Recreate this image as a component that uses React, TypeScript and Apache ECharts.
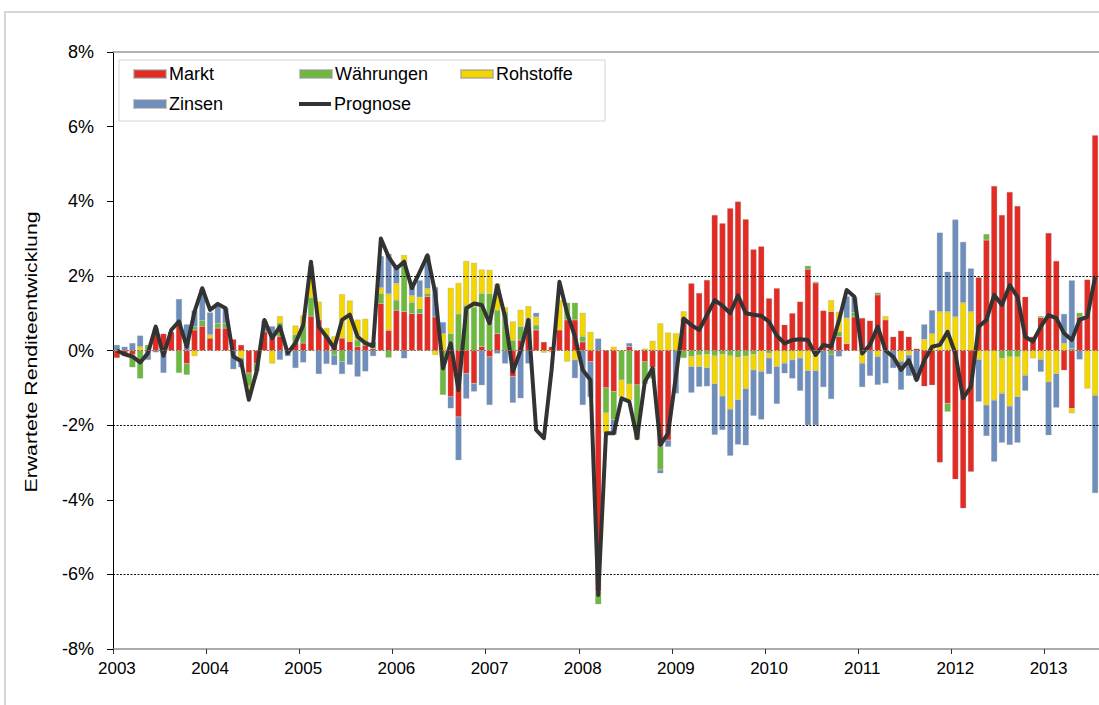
import React, { useEffect, useRef } from "react";
import * as echarts from "echarts";

// ---- data (monthly, Jan 2003 onwards) ----
const START_YEAR = 2003;
const MONTH_COUNT = 127;
const months: string[] = [];
for (let k = 0; k < MONTH_COUNT; k++) {
  const y = START_YEAR + Math.floor(k / 12);
  const m = (k % 12) + 1;
  months.push(`${y}-${m < 10 ? "0" + m : m}`);
}

const yTicks = [-8, -6, -4, -2, 0, 2, 4, 6, 8];
const gridLevels = [2, -2, -6];

const markt = [
  -0.2, -0.15, -0.1, 0, 0, 0.6, 0.45, 0.5, 0.73, -0.35, 0.55, 0.65, 0.33, 0.6, 0.6, 0.3, 0.15, -0.6, -0.35, 0.5,
  0.35, 0.38, 0.05, 0.2, 0.2, 0.92, 0.82, 0.38, 0.2, 0.33, 0.24, 0.1, 0.14, 0.05, 1.26, 0.54, 1.08, 1.04, 0.99, 0.99,
  1.44, 0.9, 0, -1.24, -1.78, -0.62, -0.88, 0.1, -0.17, 0.45, 0, -0.7, 0.28, 0.63, 0.55, 0.23, 0.1, 0.55, 0.82, 0.82,
  0.23, -0.3, -6.45, -1.0, -1.1, 0, 0.1, -0.92, -0.3, -0.45, -2.57, -2.4, 0, 0.87, 1.8, 1.54, 1.89, 3.63, 3.41, 3.81,
  3.99, 3.52, 2.71, 2.79, 1.4, 1.67, 0.69, 1.0, 1.31, 2.18, 1.81, 1.07, 1.04, 0.37, 0.18, 0.9, 0.87, 0.8, 1.49, 0.82,
  0.37, 0.53, 0.37, 0.05, -0.96, -0.93, -3.0, -1.42, -3.45, -4.23, -3.25, 1.96, 2.96, 4.41, 3.63, 4.25, 3.87, 1.44, 0.37, 0.88,
  3.15, 2.4, -0.53, -1.55, 0.9, 1.9, 5.77,
];

const waehrungen = [
  0, 0, -0.35, -0.75, 0.15, 0, 0, 0, -0.6, -0.3, 0.09, 0.15, 0, 0.13, 0.13, 0, 0, -0.35, -0.2, 0,
  0, 0.36, 0, 0.22, 0.45, 0.5, 0, 0, -0.12, -0.3, 0, 0.18, 0.13, 0.18, 0.27, -0.19, 0.27, 1.34, 0.3, 0.13,
  0.09, 0, -1.19, 0.45, 0.98, 1.21, 1.16, 1.43, 1.52, 0.63, 1.03, 0.27, 0.36, 0.22, 0.13, 0, 0, 0, 0.46, 0.46,
  0.15, 0, -0.35, -0.67, -0.75, -0.79, -0.9, -1.47, -0.6, -0.3, -0.63, 0, 0, -0.2, -0.16, -0.12, -0.1, -0.14, -0.1, -0.14,
  -0.18, -0.15, -0.1, 0, -0.07, 0, 0, 0, 0, 0.09, 0.03, 0, -0.1, 0.13, 0, 0.12, 0, 0, 0.06, 0,
  0, 0, 0, 0, 0, 0, 0, -0.22, 0, 0, 0, 0, 0.16, 0, -0.21, -0.17, -0.17, 0, 0, 0.04,
  0, 0, 0, 0.05, 0.11, 0, 0,
];

const rohstoffe = [
  0, 0, 0, 0.1, 0, 0, 0, 0, 0, 0, -0.15, 0, 0.09, 0, 0, 0, -0.2, -0.1, 0, 0,
  -0.35, 0.18, 0, 0.25, 0.29, 0.85, 0.49, 0.22, 0.18, 1.18, 1.1, 0.55, 0.58, 0, 0.15, 0.98, 0.45, 0.18, 0.18, 0.31,
  0.13, -0.12, 0.45, 1.23, 0.83, 1.19, 1.19, 0.64, 0.64, 0.71, 0.13, 0.51, 0.45, 0.34, 0.22, -0.06, -0.05, 0.8, -0.3, -0.25,
  0.63, 0.5, 0, -0.54, 0.1, -0.45, -0.43, 0, 0.05, 0.26, 0.73, 0.48, 0.46, 0.18, -0.27, -0.31, -0.36, -0.75, -1.12, -1.43,
  -1.14, -0.87, -0.42, -0.56, -0.13, -0.43, -0.34, -0.25, -0.2, -0.54, -0.54, 0, 0.31, 0.54, 0.69, 0, -0.34, 0, -0.16, 0.1,
  0, -0.29, -0.12, 0, 0.3, 0.45, 1.04, 1.04, 0.9, 1.28, 1.04, -0.24, -1.46, -1.33, -0.94, -1.32, -1.07, -0.66, -0.21, -0.24,
  -0.84, -0.62, 0.19, -0.13, 0, -1.02, -1.2,
];

const zinsen = [
  0.15, 0.1, 0.2, 0.3, -0.25, -0.05, -0.6, 0, 0.65, 0.7, 0.43, 0.85, 0.6, 0.53, 0.4, -0.5, -0.25, -0.2, 0, 0.3,
  0.3, -0.25, -0.15, -0.47, -0.32, 0, -0.63, -0.36, -0.27, -0.33, -0.38, -0.7, -0.56, -0.15, 0.85, 1.07, 0.45, -0.21, 0.31, 0.45,
  0.89, 0.8, 0.31, -0.31, -1.16, -0.67, -0.22, -0.93, -1.29, -0.08, -0.35, -0.7, -1.28, -0.35, 0.11, 0, 0, 0, 0, -0.49,
  -1.46, -0.95, 0.32, 0, -0.4, 0, 0.1, 0, 0, 0, -0.09, -0.18, -1.15, 0, -0.7, -0.54, -0.5, -1.37, -0.91, -1.25,
  -1.2, -1.52, -1.23, -1.29, -0.43, -1.0, -0.27, -0.5, -0.88, -1.46, -1.46, -0.98, -1.2, -0.16, 0.58, 0.4, -0.64, -0.68, -0.76, -0.88,
  -0.47, -0.76, -0.56, -0.8, 0.4, 0.63, 2.12, 1.07, 2.61, 1.63, 1.16, -1.13, -0.83, -1.65, -1.32, -1.04, -1.23, -0.42, 0, -0.33,
  -1.43, -0.91, 0.79, 1.83, -0.24, 0, -2.62,
];

const prognose = [
  0.0, -0.1, -0.16, -0.32, -0.07, 0.64, -0.14, 0.55, 0.78, 0.1, 1.04, 1.67, 1.09, 1.25, 1.13, -0.16, -0.29, -1.32, -0.56, 0.82,
  0.33, 0.64, -0.07, 0.2, 0.68, 2.38, 0.64, 0.37, 0.06, 0.82, 0.96, 0.37, 0.2, 0.12, 3.0, 2.51, 2.2, 2.38, 1.67, 2.1,
  2.55, 1.55, -0.48, 0.19, -1.06, 1.13, 1.26, 1.22, 0.73, 1.75, 0.9, -0.57, 0.0, 0.82, -2.13, -2.35, -0.5, 1.84, 1.0, 0.37,
  -0.52, -0.79, -6.55, -2.22, -2.22, -1.28, -1.37, -2.35, -0.84, -0.48, -2.53, -2.22, -0.7, 0.86, 0.68, 0.55, 0.95, 1.35, 1.2, 1.0,
  1.48, 1.0, 0.96, 0.93, 0.77, 0.4, 0.19, 0.28, 0.3, 0.28, -0.12, 0.15, 0.1, 0.8, 1.62, 1.44, -0.08, 0.15, 0.64, 0.0,
  -0.17, -0.52, -0.26, -0.79, -0.26, 0.1, 0.15, 0.5, -0.08, -1.28, -0.97, 0.64, 0.82, 1.49, 1.22, 1.75, 1.44, 0.37, 0.24, 0.64,
  0.95, 0.87, 0.46, 0.28, 0.82, 0.91, 1.97,
];

const seriesNames = ["Markt", "Währungen", "Rohstoffe", "Zinsen", "Prognose"];
const colors = {
  Markt: "#E42B23",
  "Währungen": "#6DB93D",
  Rohstoffe: "#F3D500",
  Zinsen: "#6E8FBE",
  Prognose: "#333333",
};

const FONT = "'Liberation Sans', Arial, sans-serif";

function barSeries(name: string, values: number[]) {
  return {
    name,
    type: "bar",
    stack: "total",
    barWidth: 6,
    z: 2,
    itemStyle: {
      color: (colors as any)[name],
      borderColor: "rgba(150,150,150,0.55)",
      borderWidth: 0.5,
    },
    data: values.map((v) => (v === 0 ? "-" : v)),
  };
}

function legendItem(name: string, left: number, top: number, isLine = false) {
  return {
    data: [name],
    left,
    top,
    padding: 0,
    itemWidth: 32,
    itemHeight: isLine ? 4 : 8,
    icon: "rect",
    selectedMode: false,
    textStyle: { fontSize: 18, color: "#000", fontFamily: FONT, padding: [0, 0, 0, -2] },
  };
}

export default function App() {
  const ref = useRef<HTMLDivElement>(null);

  useEffect(() => {
    if (!ref.current) return;
    const chart = echarts.init(ref.current, undefined, { renderer: "svg" });
    const option: any = {
      animation: false,
      backgroundColor: "#ffffff",
      textStyle: { fontFamily: FONT },
      grid: { left: 113, right: 0, top: 52, bottom: 56, containLabel: false },
      legend: [
        legendItem(seriesNames[0], 133, 65),
        legendItem(seriesNames[1], 299, 65),
        legendItem(seriesNames[2], 460, 65),
        legendItem(seriesNames[3], 133, 95),
        legendItem(seriesNames[4], 299, 95, true),
      ],
      graphic: [
        {
          type: "rect",
          z: 0,
          silent: true,
          shape: { x: 5, y: 12, width: 1300, height: 900 },
          style: { fill: "none", stroke: "#c9c9c9", lineWidth: 1.5 },
        },
        {
          type: "rect",
          z: 0,
          silent: true,
          shape: { x: 119, y: 60, width: 486, height: 61 },
          style: { fill: "#ffffff", stroke: "#d4d4d4", lineWidth: 1 },
        },
        {
          type: "text",
          silent: true,
          x: 31,
          y: 352,
          rotation: Math.PI / 2,
          scaleX: 1.25,
          style: {
            text: "Erwartete Renditeentwicklung",
            font: `17px ${FONT}`,
            fill: "#000",
            textAlign: "center",
            textVerticalAlign: "middle",
          },
        },
      ],
      xAxis: [
        {
          type: "category",
          data: months,
          position: "bottom",
          boundaryGap: true,
          axisLine: { onZero: false, lineStyle: { color: "#8f8f8f", width: 1.5 } },
          axisTick: {
            show: true,
            interval: (i: number) => i % 12 === 0,
            length: 5,
            lineStyle: { color: "#333" },
          },
          axisLabel: {
            interval: (i: number) => i % 12 === 0,
            formatter: (v: string) => v.slice(0, 4),
            color: "#000",
            fontSize: 17,
            margin: 11,
            fontFamily: FONT,
          },
          splitLine: { show: false },
        },
        {
          type: "category",
          data: months,
          position: "top",
          boundaryGap: true,
          axisLine: { show: true, onZero: false, lineStyle: { color: "#9a9a9a", width: 1.5 } },
          axisTick: { show: false },
          axisLabel: { show: false },
          splitLine: { show: false },
        },
      ],
      yAxis: {
        type: "value",
        min: yTicks[0],
        max: yTicks[yTicks.length - 1],
        interval: 2,
        axisLine: { show: true, lineStyle: { color: "#000", width: 1 } },
        axisTick: { show: true, length: 6, lineStyle: { color: "#000" } },
        axisLabel: {
          formatter: (v: number) => `${v}%`,
          color: "#000",
          fontSize: 18,
          margin: 19,
          fontFamily: FONT,
        },
        splitLine: { show: false },
      },
      series: [
        {
          name: "__grid",
          type: "line",
          z: 1,
          silent: true,
          symbol: "none",
          data: prognose.map(() => null),
          markLine: {
            silent: true,
            symbol: "none",
            label: { show: false },
            lineStyle: { color: "#111", type: [2, 1.5], width: 1 },
            data: [
              ...gridLevels.map((v) => ({ yAxis: v })),
              { yAxis: 0, lineStyle: { color: "#9a6a50", type: [2, 1.5], width: 1 } },
            ],
          },
        },
        barSeries("Markt", markt),
        barSeries("Währungen", waehrungen),
        barSeries("Rohstoffe", rohstoffe),
        barSeries("Zinsen", zinsen),
        {
          name: "Prognose",
          type: "line",
          z: 3,
          symbol: "none",
          showSymbol: false,
          itemStyle: { color: colors.Prognose },
          lineStyle: { color: colors.Prognose, width: 4, join: "round" },
          data: prognose,
        },
      ],
    };
    chart.setOption(option);
    return () => chart.dispose();
  }, []);

  return (
    <div
      ref={ref}
      style={{ position: "fixed", left: 0, top: 0, width: 1099, height: 705, background: "#fff" }}
    />
  );
}
